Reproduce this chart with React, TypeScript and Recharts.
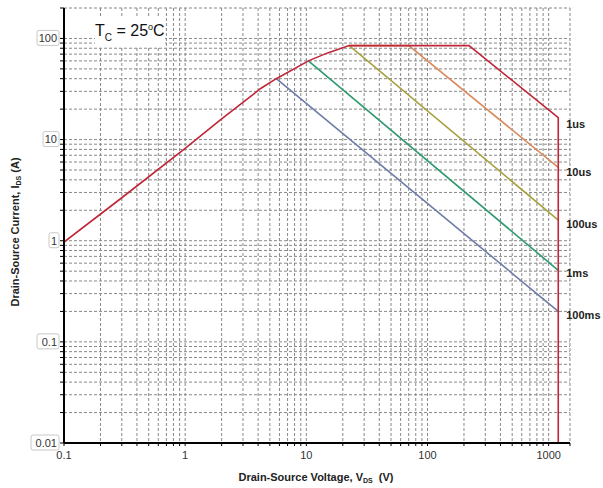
import { LineChart, Line, CartesianGrid, XAxis, YAxis } from 'recharts'

// safe operating area, log-log
const xDecades = [0.1, 1, 10, 100, 1000]
const yDecades = [0.01, 0.1, 1, 10, 100]
const xDecadeLabels = ['0.1', '1', '10', '100', '1000']
const yDecadeLabels = ['0.01', '0.1', '1', '10', '100']
const steps = [1, 2, 3, 4, 5, 6, 7, 8, 9]

const us1V = [0.1, 0.3, 1, 2, 4.2, 5.65, 10.4, 15, 22.6, 220, 1200, 1200]
const us1I = [0.97, 2.66, 8.2, 16, 32, 40, 60, 72, 85, 85, 16.5, 0.01]
const us10V = [22.6, 70, 1200]
const us10I = [85, 85, 5.3]
const us100V = [22.6, 1200]
const us100I = [85, 1.6]
const ms1V = [10.4, 1200]
const ms1I = [60, 0.51]
const ms100V = [5.65, 1200]
const ms100I = [40, 0.2]

const xTicks = [...xDecades.slice(0, 4).flatMap(d => steps.map(s => +(d * s).toPrecision(3))), 1000, 1500]
const yTicks = [...yDecades.slice(0, 4).flatMap(d => steps.map(s => +(d * s).toPrecision(3))), 100, 200]

const pts = (v: number[], i: number[]) => v.map((x, k) => ({ v: x, i: i[k] }))

const series = [
  { name: '100ms', data: pts(ms100V, ms100I), color: '#6E7BA6', at: 1, dy: 4 },
  { name: '1ms', data: pts(ms1V, ms1I), color: '#2F9A6E', at: 1, dy: 3 },
  { name: '100us', data: pts(us100V, us100I), color: '#A8A23C', at: 1, dy: 4 },
  { name: '10us', data: pts(us10V, us10I), color: '#DB8A5C', at: 2, dy: 5 },
  { name: '1us', data: pts(us1V, us1I), color: '#BF2638', at: 10, dy: 7 },
]

const font = 'Liberation Sans, Arial, sans-serif'

const YTick = (p: any) => {
  const k = yDecades.indexOf(p.payload.value)
  if (k < 0) return null
  const t = yDecadeLabels[k]
  const w = t.length * 6 + 4
  return (
    <g>
      <rect x={p.x - w + 1} y={p.y - 8} width={w} height={15} rx={2} fill='#fff' stroke='#c8c8c8' />
      <text x={p.x - 1} y={p.y} dy='0.35em' textAnchor='end' fontSize={11} fill='#333' fontFamily={font}>{t}</text>
    </g>
  )
}

const XTick = (p: any) => {
  const k = xDecades.indexOf(p.payload.value)
  if (k < 0) return null
  return (
    <text x={p.x} y={p.y + 11} textAnchor='middle' fontSize={11} fill='#333' fontFamily={font}>{xDecadeLabels[k]}</text>
  )
}

const EndLabel = (name: string, at: number, dy: number) => (p: any) => {
  if (p.index !== at) return null
  return (
    <text key={name} x={p.x + 8} y={p.y + dy} dy='0.35em' fontSize={11} fontWeight='bold' fill='#222' fontFamily={font}>{name}</text>
  )
}

export default function App() {
  return (
    <div style={{ position: 'absolute', left: 0, top: 0, width: 603, height: 488, background: '#fff' }}>
      <LineChart width={603} height={488} margin={{ top: 8, right: 33, bottom: 0, left: 0 }}>
        <CartesianGrid stroke='#888' strokeDasharray='3 2' />
        <XAxis dataKey='v' type='number' scale='log' domain={[0.1, 1500]} ticks={xTicks} interval={0}
          allowDataOverflow height={45} tickSize={3} tick={<XTick />}
          axisLine={{ stroke: '#000', strokeWidth: 2 }} tickLine={{ stroke: '#000' }}
          label={{ content: () => (
            <text x={316} y={477} dy='0.35em' textAnchor='middle' fontSize={11} fontWeight='bold' fill='#222' fontFamily={font}>
              Drain-Source Voltage, V<tspan fontSize={7} dy={2}>DS</tspan><tspan dy={-2}>{'\u00a0\u00a0(V)'}</tspan>
            </text>
          ) }} />
        <YAxis type='number' scale='log' domain={[0.01, 200]} ticks={yTicks} interval={0}
          allowDataOverflow width={64} tickSize={4} tickMargin={2} tick={<YTick />}
          axisLine={{ stroke: '#000', strokeWidth: 2 }} tickLine={{ stroke: '#000' }}
          label={{ content: () => (
            <text x={15} y={232} textAnchor='middle' dy='0.35em' transform='rotate(-90 15 232)' fontSize={11} fontWeight='bold' fill='#222' fontFamily={font}>
              Drain-Source Current, I<tspan fontSize={7} dy={2}>DS</tspan><tspan dy={-2}> (A)</tspan>
            </text>
          ) }} />
        {series.map(s => (
          <Line key={s.name} data={s.data} dataKey='i' type='linear' stroke={s.color} strokeWidth={1.6}
            dot={false} isAnimationActive={false} label={EndLabel(s.name, s.at, s.dy)} />
        ))}
      </LineChart>
      <div style={{ position: 'absolute', left: 95, top: 18, fontFamily: font, fontSize: 16, color: '#111', background: '#fff', lineHeight: '18px' }}>
        T<sub style={{ fontSize: 10 }}>C</sub> = 25<sup style={{ fontSize: 9 }}>o</sup>C
      </div>
    </div>
  )
}
